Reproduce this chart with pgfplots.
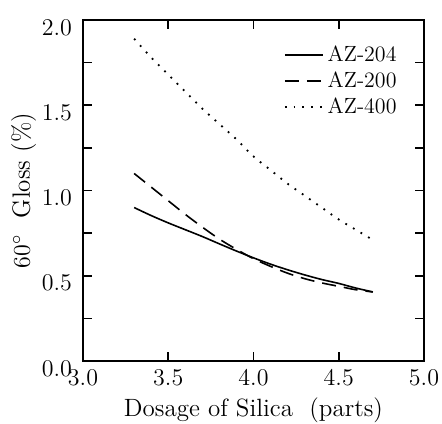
\documentclass[border=0pt]{standalone}
\usepackage{pgfplots}
\pgfplotsset{compat=1.18}
\pgfplotstableread{
x y
3.3 0.90
3.4 0.853
3.5 0.81
3.6 0.77
3.7 0.73
3.8 0.687
3.9 0.645
4.0 0.605
4.1 0.568
4.2 0.535
4.3 0.505
4.4 0.478
4.5 0.455
4.6 0.428
4.7 0.405
}\azA
\pgfplotstableread{
x y
3.3 1.10
3.4 1.02
3.5 0.94
3.6 0.86
3.7 0.785
3.8 0.715
3.9 0.655
4.0 0.60
4.1 0.555
4.2 0.515
4.3 0.483
4.4 0.458
4.5 0.438
4.6 0.418
4.7 0.405
}\azB
\pgfplotstableread{
x y
3.3 1.89
3.4 1.78
3.5 1.68
3.6 1.58
3.7 1.48
3.8 1.39
3.9 1.30
4.0 1.20
4.1 1.12
4.2 1.04
4.3 0.97
4.4 0.90
4.5 0.83
4.6 0.77
4.7 0.71
}\azC
\begin{document}
\begin{tikzpicture}
\begin{axis}[
  name=ax,
  width=170.5pt, height=170.5pt, scale only axis,
  xmin=3, xmax=5, ymin=0, ymax=2,
  xtick={3,3.5,4,4.5,5},
  ytick={0,0.5,1,1.5,2},
  minor ytick={0.25,0.75,1.25,1.75},
  tick align=inside,
  major tick length=4.5pt, minor tick length=4.5pt,
  axis line style={line width=1pt},
  every tick/.style={black, line width=0.8pt},
  /pgf/number format/fixed,
  /pgf/number format/fixed zerofill,
  /pgf/number format/precision=1,
  tick label style={font=\fontsize{12.8}{15}\selectfont},
  label style={font=\fontsize{12.5}{15}\selectfont},
  xlabel={Dosage of Silica\ \ (parts)},
  ylabel={$60^\circ$\ \ Gloss (\%)},
  xlabel style={yshift=1pt},
  ylabel style={yshift=-4pt},
  x tick label style={yshift=-1pt},
  y tick label style={yshift=-3.7pt, xshift=-2pt},
  legend style={draw=none, fill=none, at={(0.95,0.95)}, anchor=north east,
    font=\fontsize{11}{13}\selectfont, row sep=-0.3pt, legend cell align=left},
  legend image code/.code={\draw[#1] (0pt,0pt) -- (19pt,0pt);},
]
\addplot[black, line width=0.8pt, smooth] table {\azA};
\addlegendentry{AZ-204}
\addplot[black, line width=0.8pt, smooth, dash pattern=on 7pt off 4pt] table {\azB};
\addlegendentry{AZ-200}
\addplot[black, line width=0.9pt, smooth, dash pattern=on 0.9pt off 3.5pt] table {\azC};
\addlegendentry{AZ-400}
\end{axis}
\pgfresetboundingbox
\path[use as bounding box] ([xshift=-41.5pt,yshift=-31pt]ax.south west) rectangle ([xshift=179.5pt,yshift=180.5pt]ax.south west);
\end{tikzpicture}
\end{document}
